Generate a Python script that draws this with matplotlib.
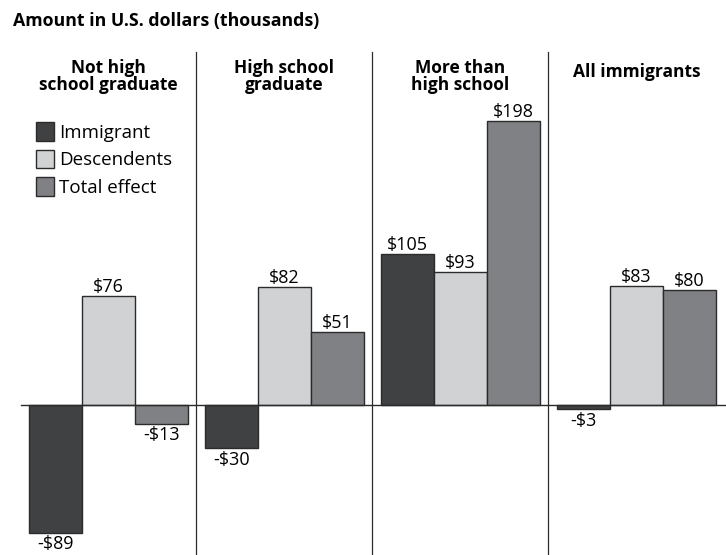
import numpy as np
import matplotlib
matplotlib.use("Agg")
import matplotlib.pyplot as plt

plt.rcParams['font.family'] = ['Open Sans', 'DejaVu Sans']

groups = ["Not high\nschool graduate", "High school\ngraduate", "More than\nhigh school", "All immigrants"]
series = ["Immigrant", "Descendents", "Total effect"]
immigrant = [-89, -30, 105, -3]
descendents = [76, 82, 93, 83]
total_effect = [-13, 51, 198, 80]
colors = ["#404143", "#d1d2d4", "#808184"]

fig = plt.figure(figsize=(7.26, 5.55), dpi=100)
ax = fig.add_axes([0, 0, 1, 1])
ax.set_xlim(-0.6165, 3.509)
ax.set_ylim(-104.6, 282.4)
ax.axis("off")

x = np.arange(len(groups))
w = 0.301
handles = []
for j, (name, vals) in enumerate(zip(series, [immigrant, descendents, total_effect])):
    bars = ax.bar(x + (j - 1) * w, vals, w, color=colors[j], edgecolor="#2b2b2b",
                  linewidth=1.0, label=name, zorder=2)
    handles.append(bars)
    for xi, v in zip(x + (j - 1) * w, vals):
        txt = f"-${abs(v)}" if v < 0 else f"${v}"
        if v < 0:
            ax.annotate(txt, (xi, v), xytext=(0, -2), textcoords="offset points",
                        ha="center", va="top", fontsize=13)
        else:
            ax.annotate(txt, (xi, v), xytext=(0, 0), textcoords="offset points",
                        ha="center", va="bottom", fontsize=13)

# zero line and group separators
ax.plot([-0.5, 3.509], [0, 0], color="#2b2b2b", linewidth=1.0, zorder=3)
for s in [0.5, 1.5, 2.5]:
    ax.plot([s, s], [-104.6, 246], color="#2b2b2b", linewidth=0.9, zorder=1)

# group titles
for xi, g in zip(x, groups):
    yy = 229 if "\n" in g else 232
    ax.text(xi, yy, g, ha="center", va="center", fontsize=12.5, fontweight="bold",
            linespacing=0.95)

fig.text(13 / 726, 1 - 21 / 555, "Amount in U.S. dollars (thousands)", ha="left",
         va="center", fontsize=12.8, fontweight="bold")

ax.legend(handles=handles, loc="upper left", bbox_to_anchor=(36 / 726, 1 - 122 / 555),
          frameon=False, fontsize=13.5, handlelength=0.95, handleheight=1.15,
          handletextpad=0.3, labelspacing=0.42, borderaxespad=0, borderpad=0)

fig.savefig("out.png", dpi=100)
